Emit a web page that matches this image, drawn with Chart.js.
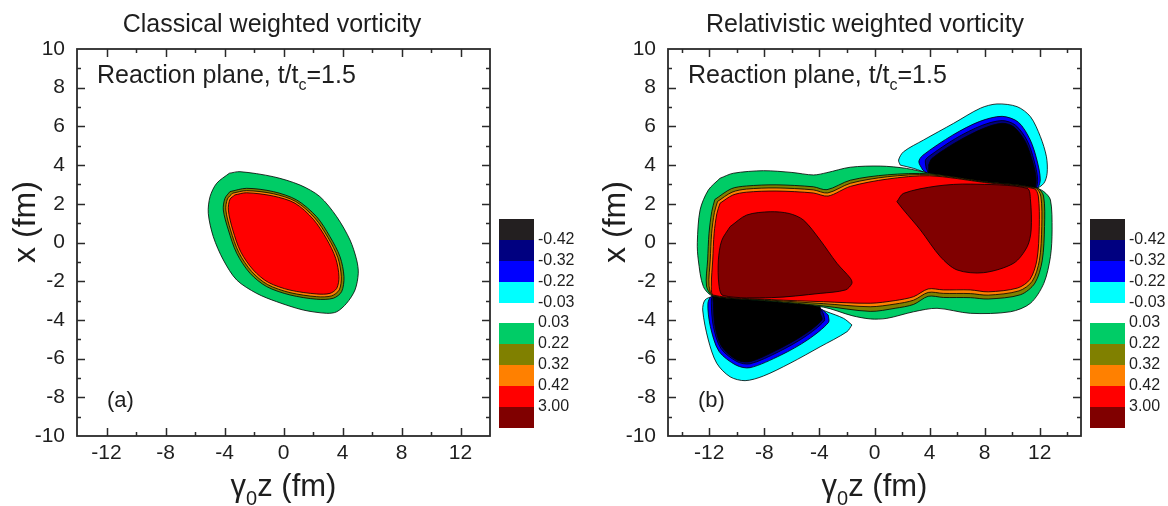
<!DOCTYPE html>
<html>
<head>
<meta charset="utf-8">
<script src="https://cdn.jsdelivr.net/npm/chart.js@4.4.1/dist/chart.umd.min.js"></script>
<style>
  html, body { margin: 0; padding: 0; background: #fff; }
  #wrap { position: relative; width: 1168px; height: 506px; }
  canvas { position: absolute; top: 0; }
</style>
</head>
<body>
<div id="wrap">
  <canvas id="left" width="584" height="506" style="left:0"></canvas>
  <canvas id="right" width="584" height="506" style="left:584px"></canvas>
</div>
<script>
// colour levels shown in the colour bars (top to bottom)
const bandColors = ['#231F20', '#000080', '#0000FF', '#00FFFF', '#00CC66', '#808000', '#FF8000', '#FF0000', '#800000'];
const bandLabels = ['-0.42', '-0.32', '-0.22', '-0.03', '0.03', '0.22', '0.32', '0.42', '3.00'];

// tick values (labelled ones, and all tick marks)
const xLabelTicks = [-12, -8, -4, 0, 4, 8, 12];
const xAllTicks = [-14, -12, -10, -8, -6, -4, -2, 0, 2, 4, 6, 8, 10, 12, 14];
const yLabelTicks = [-10, -8, -6, -4, -2, 0, 2, 4, 6, 8, 10];
const yAllTicks = [-10, -9, -8, -7, -6, -5, -4, -3, -2, -1, 0, 1, 2, 3, 4, 5, 6, 7, 8, 9, 10];

// (a) classical: contour outlines, [gamma0 z, x] in fm
const clGreen = [[-3.67,3.58],[-2.95,3.66],[-0.69,3.40],[1.12,2.97],[2.47,2.37],[3.61,1.33],[4.51,0.13],[4.96,-0.90],[5.07,-1.59],[4.85,-2.45],[4.28,-3.14],[3.61,-3.58],[2.93,-3.66],[1.34,-3.49],[-0.46,-3.06],[-1.82,-2.63],[-3.17,-1.94],[-4.08,-0.90],[-4.76,0.30],[-5.10,1.51],[-4.98,2.37],[-4.53,3.06]];
const clOlive = [[-3.63,2.63],[-2.50,2.80],[-0.69,2.63],[0.89,2.20],[2.25,1.33],[3.15,0.30],[3.83,-0.73],[4.10,-1.77],[3.94,-2.54],[3.38,-2.88],[2.25,-2.93],[0.44,-2.71],[-1.14,-2.28],[-2.27,-1.59],[-3.17,-0.56],[-3.74,0.65],[-4.08,1.68],[-3.97,2.28]];
const clOrange = [[-3.45,2.55],[-2.50,2.68],[-0.69,2.52],[0.83,2.12],[2.12,1.27],[3.03,0.24],[3.68,-0.77],[3.92,-1.77],[3.78,-2.45],[3.25,-2.76],[2.25,-2.80],[0.44,-2.59],[-1.09,-2.17],[-2.16,-1.50],[-3.03,-0.52],[-3.59,0.65],[-3.91,1.68],[-3.80,2.25]];
const clRed = [[-3.29,2.46],[-2.50,2.57],[-0.69,2.40],[0.78,2.03],[2.02,1.20],[2.93,0.17],[3.54,-0.82],[3.76,-1.77],[3.61,-2.37],[3.15,-2.63],[2.25,-2.66],[0.44,-2.46],[-1.03,-2.06],[-2.05,-1.42],[-2.90,-0.48],[-3.44,0.65],[-3.74,1.68],[-3.63,2.23]];

// (b) relativistic: contour outlines, [gamma0 z, x] in fm
const relCyanTop = [[1.87,4.0],[1.75,4.26],[2.11,4.69],[3.57,5.30],[5.75,6.16],[7.69,6.94],[8.90,7.16],[10.36,7.02],[11.33,6.50],[12.05,5.47],[12.49,4.43],[12.54,3.58],[12.30,3.06],[11.69,2.80],[8.0,3.1],[4.05,3.55],[2.84,3.83]];
const relBlueTop = [[3.50,3.75],[3.22,4.17],[3.50,4.50],[5.70,5.56],[7.65,6.26],[9.27,6.52],[10.45,6.22],[11.30,5.32],[11.80,4.26],[12.04,3.23],[11.75,2.8],[8.0,3.1],[4.05,3.5]];
const relNavyTop = [[3.75,3.85],[3.70,4.25],[3.95,4.45],[5.90,5.38],[7.80,6.05],[9.27,6.30],[10.25,6.06],[11.10,5.25],[11.58,4.26],[11.85,3.28],[11.65,2.8],[8.0,3.1],[4.05,3.5]];
const relBlackTop = [[3.93,4.0],[4.18,4.35],[6.00,5.21],[7.93,5.90],[9.27,6.16],[10.11,5.98],[10.96,5.21],[11.45,4.26],[11.74,3.32],[11.57,2.8],[8.0,3.05],[4.05,3.45]];
const relCyanBot = [[-1.64,-4.26],[-2.00,-4.61],[-3.95,-5.39],[-6.13,-6.24],[-8.07,-6.90],[-9.40,-7.14],[-10.49,-6.94],[-11.46,-6.24],[-12.07,-5.04],[-12.48,-3.49],[-12.31,-2.97],[-11.70,-2.80],[-7.5,-3.0],[-4.43,-3.32],[-3.46,-3.58],[-2.25,-3.92]];
const relBlueBot = [[-3.36,-3.75],[-3.34,-4.13],[-4.85,-5.03],[-6.80,-5.82],[-9.04,-6.47],[-10.05,-6.34],[-11.30,-5.62],[-11.92,-4.35],[-12.10,-3.14],[-11.78,-2.78],[-7.5,-3.0],[-4.0,-3.4]];
const relNavyBot = [[-3.70,-3.70],[-3.65,-4.05],[-5.05,-4.87],[-6.97,-5.65],[-9.04,-6.27],[-10.0,-6.15],[-11.15,-5.48],[-11.70,-4.35],[-11.85,-3.14],[-11.72,-2.78],[-7.5,-3.0],[-4.0,-3.4]];
const relBlackBot = [[-3.95,-3.66],[-3.82,-4.0],[-5.16,-4.78],[-7.09,-5.56],[-9.04,-6.16],[-10.0,-6.07],[-11.09,-5.39],[-11.58,-4.35],[-11.70,-3.14],[-11.65,-2.76],[-7.5,-2.95],[-4.0,-3.3]];
const relGreen = [[-11.22,3.32],[-10.25,3.58],[-8.07,3.71],[-6.0,3.62],[-4.43,3.49],[-3.46,3.61],[-1.76,3.89],[0.42,3.95],[2.31,3.83],[4.0,3.58],[8.0,3.15],[11.7,2.82],[12.30,2.63],[12.78,2.20],[12.90,0.65],[12.78,-0.73],[12.30,-2.11],[11.33,-3.14],[9.87,-3.58],[6.96,-3.66],[4.54,-3.40],[2.84,-3.58],[0.90,-3.92],[-0.30,-3.95],[-1.64,-3.78],[-3.70,-3.34],[-7.5,-3.05],[-11.7,-2.78],[-12.43,-2.28],[-12.80,-0.90],[-12.87,0.0],[-12.67,1.68],[-12.07,2.71]];
const relOlive = [[-11.6,2.22],[-10.4,2.78],[-9.3,2.92],[-7.15,2.98],[-4.45,2.88],[-3.45,2.73],[-1.75,3.22],[0.96,3.50],[4.0,3.55],[8.0,3.15],[11.8,2.82],[12.28,2.4],[12.35,0.82],[12.18,-0.95],[11.65,-2.1],[10.6,-2.7],[8.26,-2.92],[6.96,-2.85],[5.0,-2.84],[3.9,-2.78],[2.84,-3.2],[1.5,-3.4],[-0.31,-3.56],[-3.7,-3.28],[-7.5,-3.02],[-11.7,-2.76],[-12.2,-2.25],[-12.12,-0.9],[-12.02,0.48],[-11.82,1.6]];
const relOrange = [[-11.4,2.12],[-10.35,2.6],[-9.3,2.76],[-7.15,2.82],[-4.45,2.72],[-3.4,2.56],[-1.75,3.06],[0.96,3.40],[4.0,3.50],[8.0,3.12],[11.7,2.8],[12.08,2.4],[12.15,0.82],[11.98,-0.92],[11.46,-2.0],[10.5,-2.5],[8.26,-2.72],[6.96,-2.64],[5.0,-2.63],[3.9,-2.58],[2.84,-2.98],[1.5,-3.18],[-0.31,-3.32],[-3.7,-3.16],[-7.5,-2.98],[-11.7,-2.74],[-12.02,-2.22],[-11.93,-0.9],[-11.83,0.48],[-11.63,1.55]];
const relRed = [[-11.22,2.03],[-10.3,2.45],[-9.3,2.60],[-7.15,2.66],[-4.45,2.56],[-3.37,2.40],[-1.75,2.90],[0.96,3.28],[4.0,3.45],[8.0,3.1],[11.6,2.78],[11.9,2.4],[11.97,0.82],[11.8,-0.9],[11.3,-1.9],[10.4,-2.35],[8.26,-2.55],[6.96,-2.45],[5.0,-2.45],[3.9,-2.4],[2.84,-2.8],[1.5,-3.0],[-0.31,-3.14],[-3.7,-3.06],[-7.5,-2.95],[-11.7,-2.72],[-11.85,-2.2],[-11.75,-0.9],[-11.65,0.48],[-11.45,1.5]];
const relDarkLeft = [[-10.49,0.82],[-9.28,1.42],[-7.58,1.59],[-6.2,1.5],[-5.16,1.16],[-3.95,0.13],[-2.73,-1.07],[-1.75,-1.85],[-1.64,-2.11],[-2.1,-2.45],[-3.95,-2.63],[-7.5,-2.85],[-11.0,-2.74],[-11.3,-2.2],[-11.34,-0.90],[-11.1,0.1]];
const relDarkRight = [[1.63,2.11],[2.11,2.54],[4.54,2.92],[6.96,3.02],[11.09,2.80],[11.33,2.20],[11.38,0.65],[11.09,-0.22],[10.11,-1.07],[7.93,-1.56],[6.0,-1.42],[4.78,-0.73],[3.33,0.65],[2.11,1.68]];

const FONT = "'Liberation Sans', Arial, Helvetica, sans-serif";
const INK = '#1e1e1e';
const C = {navy: bandColors[1], blue: bandColors[2], cyan: bandColors[3], green: bandColors[4], olive: bandColors[5], orange: bandColors[6], red: bandColors[7], dark: bandColors[8]};

function region(pts, color) {
  const d = pts.map(p => ({x: p[0], y: p[1]}));
  d.push(d[0]);
  return {
    data: d, showLine: true, fill: 'shape', tension: 0.3,
    backgroundColor: color, borderColor: '#000', borderWidth: 0.8,
    pointRadius: 0
  };
}

// draws frame, inward ticks, titles and colour bar
function decor(o) {
  return {
    id: 'decor',
    afterDraw(chart) {
      const {ctx, chartArea: a, scales: {x, y}} = chart;
      ctx.save();
      ctx.strokeStyle = '#2a2a2a';
      ctx.lineWidth = 1.8;
      ctx.strokeRect(a.left, a.top, a.right - a.left, a.bottom - a.top);
      ctx.lineWidth = 1.5;
      ctx.beginPath();
      xAllTicks.forEach(v => {
        if (v <= x.min || v >= x.max) return;
        const px = Math.round(x.getPixelForValue(v)) + 0.5;
        const len = v % 4 === 0 ? 8 : 4;
        ctx.moveTo(px, a.bottom); ctx.lineTo(px, a.bottom - len);
        ctx.moveTo(px, a.top); ctx.lineTo(px, a.top + len);
      });
      yAllTicks.forEach(v => {
        if (v <= y.min || v >= y.max) return;
        const py = Math.round(y.getPixelForValue(v)) + 0.5;
        const len = v % 2 === 0 ? 8 : 4;
        ctx.moveTo(a.left, py); ctx.lineTo(a.left + len, py);
        ctx.moveTo(a.right, py); ctx.lineTo(a.right - len, py);
      });
      ctx.stroke();

      ctx.fillStyle = INK;
      ctx.textBaseline = 'alphabetic';
      // chart title
      ctx.font = '25px ' + FONT;
      ctx.textAlign = 'center';
      ctx.fillText(o.title, o.titleX, 32);
      // Reaction plane label with subscript c
      ctx.textAlign = 'left';
      let tx = a.left + 20;
      ctx.font = '25px ' + FONT;
      ctx.fillText('Reaction plane, t/t', tx, 83);
      tx += ctx.measureText('Reaction plane, t/t').width;
      ctx.font = '16px ' + FONT;
      ctx.fillText('c', tx, 90);
      tx += ctx.measureText('c').width;
      ctx.font = '25px ' + FONT;
      ctx.fillText('=1.5', tx, 83);
      // panel letter
      ctx.font = '22px ' + FONT;
      ctx.fillText(o.letter, a.left + 30, 407);
      // x axis title: gamma_0 z (fm)
      ctx.font = '31px ' + FONT;
      const wg = ctx.measureText('\u03B3').width;
      const wz = ctx.measureText('z (fm)').width;
      ctx.font = '20px ' + FONT;
      const w0 = ctx.measureText('0').width;
      const gx = (a.left + a.right) / 2 - (wg + w0 + wz) / 2;
      ctx.font = '31px ' + FONT;
      ctx.fillText('\u03B3', gx, 496);
      ctx.font = '20px ' + FONT;
      ctx.fillText('0', gx + wg, 505);
      ctx.font = '31px ' + FONT;
      ctx.fillText('z (fm)', gx + wg + w0, 496);
      // y axis title
      ctx.save();
      ctx.translate(o.yTitleX, 222);
      ctx.rotate(-Math.PI / 2);
      ctx.textAlign = 'center';
      ctx.font = '32px ' + FONT;
      ctx.fillText('x (fm)', 0, 0);
      ctx.restore();
      // colour bar
      const bx = a.right + 9, bw = 35, bh = 21;
      ctx.font = '16px ' + FONT;
      ctx.textBaseline = 'middle';
      ctx.textAlign = 'left';
      bandColors.forEach((c, i) => {
        const top = i < 4 ? 219 + i * bh : 323 + (i - 4) * bh;
        ctx.fillStyle = c;
        ctx.fillRect(bx, top, bw, bh);
        ctx.fillStyle = INK;
        ctx.fillText(bandLabels[i], bx + bw + 4, i < 4 ? top + bh : top);
      });
      ctx.restore();
    }
  };
}

function makeChart(id, datasets, xr, o) {
  return new Chart(document.getElementById(id), {
    type: 'scatter',
    data: {datasets: datasets.slice().reverse()},
    options: {
      responsive: false,
      animation: false,
      layout: {padding: {left: 0, right: o.padRight, top: 49, bottom: 0}},
      plugins: {legend: {display: false}, tooltip: {enabled: false}},
      scales: {
        x: {
          type: 'linear', min: -xr, max: xr,
          grid: {display: false}, border: {display: false},
          afterBuildTicks: s => { s.ticks = xLabelTicks.map(v => ({value: v})); },
          ticks: {
            autoSkip: false, maxRotation: 0, padding: -3,
            color: INK, font: {size: 21, family: FONT},
            callback: v => String(v)
          },
          afterFit: s => { s.height = 70; }
        },
        y: {
          type: 'linear', min: -10, max: 10,
          grid: {display: false}, border: {display: false},
          afterBuildTicks: s => { s.ticks = yLabelTicks.map(v => ({value: v})); },
          ticks: {
            autoSkip: false, padding: 4,
            color: INK, font: {size: 21, family: FONT},
            callback: v => String(v)
          },
          afterFit: s => { s.width = o.yWidth; }
        }
      }
    },
    plugins: [decor(o)]
  });
}

makeChart('left', [
  region(clGreen, C.green), region(clOlive, C.olive),
  region(clOrange, C.orange), region(clRed, C.red)
], 14, {padRight: 94, yWidth: 77, title: 'Classical weighted vorticity', titleX: 272, letter: '(a)', yTitleX: 35});

makeChart('right', [
  region(relCyanTop, C.cyan), region(relBlueTop, C.blue), region(relNavyTop, C.navy), region(relBlackTop, '#000'),
  region(relCyanBot, C.cyan), region(relBlueBot, C.blue), region(relNavyBot, C.navy), region(relBlackBot, '#000'),
  region(relGreen, C.green), region(relOlive, C.olive), region(relOrange, C.orange), region(relRed, C.red),
  region(relDarkLeft, C.dark), region(relDarkRight, C.dark)
], 15, {padRight: 87, yWidth: 84, title: 'Relativistic weighted vorticity', titleX: 281, letter: '(b)', yTitleX: 41});
</script>
</body>
</html>
